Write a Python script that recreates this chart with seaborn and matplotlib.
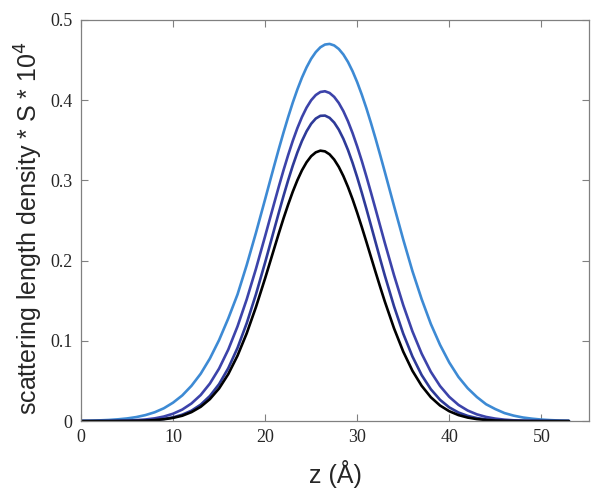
import numpy as np
import pandas as pd
import seaborn as sns
import matplotlib
matplotlib.use("Agg")
import matplotlib.pyplot as plt

# ----------------------------
# DATA
# ----------------------------
z = [0, 1, 2, 3, 4, 5, 6, 7, 8, 9, 10, 11, 12, 13, 14, 15, 16, 17, 18, 19,
     20, 20.5, 21, 21.5, 22, 22.5, 23, 23.5, 24, 24.5, 25, 25.5, 26, 26.5,
     27, 27.5, 28, 28.5, 29, 29.5, 30, 30.5, 31, 31.5, 32, 32.5, 33,
     34, 35, 36, 37, 38, 39, 40, 41, 42, 43, 44, 45, 46, 47, 48, 49, 50, 51, 52, 53]

sld_light = [0.0003, 0.0005, 0.0009, 0.0014, 0.0022, 0.0033, 0.0050, 0.0075, 0.0110, 0.0160,
             0.0230, 0.0320, 0.0440, 0.0590, 0.0780, 0.1010, 0.1280, 0.1578, 0.1945, 0.2345,
             0.2765, 0.2978, 0.3189, 0.3397, 0.3597, 0.3788, 0.3968, 0.4132, 0.4280, 0.4408,
             0.4515, 0.4598, 0.4658, 0.4692, 0.4700, 0.4681, 0.4637, 0.4568, 0.4475, 0.4359,
             0.4223, 0.4068, 0.3898, 0.3713, 0.3518, 0.3314, 0.3105,
             0.2681, 0.2263, 0.1869, 0.1520, 0.1210, 0.0950, 0.0730, 0.0550, 0.0410, 0.0300,
             0.0210, 0.0150, 0.0100, 0.0068, 0.0045, 0.0030, 0.0019, 0.0012, 0.0007, 0.0004]

sld_mid = [0.0000, 0.0000, 0.0001, 0.0002, 0.0003, 0.0006, 0.0012, 0.0020, 0.0034, 0.0057,
           0.0092, 0.0144, 0.0220, 0.0325, 0.0468, 0.0655, 0.0892, 0.1180, 0.1517, 0.1896,
           0.2305, 0.2514, 0.2722, 0.2928, 0.3127, 0.3315, 0.3491, 0.3650, 0.3789, 0.3906,
           0.3998, 0.4063, 0.4101, 0.4110, 0.4089, 0.4040, 0.3964, 0.3862, 0.3736, 0.3588,
           0.3422, 0.3242, 0.3048, 0.2846, 0.2639, 0.2430, 0.2221,
           0.1818, 0.1446, 0.1118, 0.0841, 0.0614, 0.0437, 0.0302, 0.0202, 0.0132, 0.0084,
           0.0052, 0.0031, 0.0018, 0.0010, 0.0006, 0.0003, 0.0002, 0.0001, 0.0000, 0.0000]

sld_dark = [0.0000, 0.0000, 0.0000, 0.0000, 0.0001, 0.0002, 0.0004, 0.0008, 0.0015, 0.0027,
            0.0047, 0.0080, 0.0130, 0.0205, 0.0313, 0.0461, 0.0660, 0.0912, 0.1220, 0.1579,
            0.1977, 0.2185, 0.2395, 0.2603, 0.2807, 0.3001, 0.3182, 0.3347, 0.3491, 0.3611,
            0.3705, 0.3770, 0.3804, 0.3807, 0.3779, 0.3720, 0.3632, 0.3517, 0.3378, 0.3217,
            0.3038, 0.2846, 0.2645, 0.2437, 0.2227, 0.2018, 0.1814,
            0.1430, 0.1090, 0.0805, 0.0574, 0.0397, 0.0265, 0.0171, 0.0107, 0.0065, 0.0038,
            0.0021, 0.0012, 0.0006, 0.0003, 0.0002, 0.0001, 0.0000, 0.0000, 0.0000, 0.0000]

sld_black = [0.0000, 0.0000, 0.0000, 0.0000, 0.0001, 0.0002, 0.0003, 0.0006, 0.0012, 0.0023,
             0.0040, 0.0067, 0.0112, 0.0178, 0.0274, 0.0407, 0.0586, 0.0815, 0.1094, 0.1420,
             0.1780, 0.1968, 0.2157, 0.2345, 0.2527, 0.2698, 0.2858, 0.3001, 0.3125, 0.3225,
             0.3301, 0.3349, 0.3370, 0.3361, 0.3324, 0.3259, 0.3168, 0.3053, 0.2917, 0.2764,
             0.2596, 0.2418, 0.2233, 0.2044, 0.1855, 0.1670, 0.1490,
             0.1156, 0.0866, 0.0627, 0.0440, 0.0297, 0.0194, 0.0123, 0.0075, 0.0044, 0.0025,
             0.0014, 0.0007, 0.0004, 0.0002, 0.0001, 0.0000, 0.0000, 0.0000, 0.0000, 0.0000]

series_names = ["light", "mid", "dark", "black"]
colors = ["#3d8ad4", "#3c43aa", "#2e3a98", "#000000"]

x_ticks = [0, 10, 20, 30, 40, 50]
y_ticks = [0, 0.1, 0.2, 0.3, 0.4, 0.5]
y_tick_labels = ["0", "0.1", "0.2", "0.3", "0.4", "0.5"]

# ----------------------------
# BUILD LONG TABLE
# ----------------------------
df = pd.concat([
    pd.DataFrame({"z": z, "sld": vals, "curve": name})
    for name, vals in zip(series_names, [sld_light, sld_mid, sld_dark, sld_black])
])

# ----------------------------
# PLOT
# ----------------------------
sns.set_style("white")
fig = plt.figure(figsize=(6, 4.96), dpi=100)
ax = fig.add_axes([0.135, 0.151, 0.847, 0.809])

sns.lineplot(data=df, x="z", y="sld", hue="curve", hue_order=series_names,
             palette=colors, linewidth=1.9, legend=False, ax=ax,
             solid_joinstyle="round", solid_capstyle="round")

ax.set_xlim(0, 55.2)
ax.set_ylim(0, 0.5)
ax.set_xticks(x_ticks)
ax.set_yticks(y_ticks)
ax.set_yticklabels(y_tick_labels)

for lab in ax.get_xticklabels() + ax.get_yticklabels():
    lab.set_family("Liberation Serif")
    lab.set_fontsize(13)

ax.tick_params(direction="in", length=5, width=0.8, color="#808080",
               top=True, right=True, bottom=True, left=True, pad=6)

for sp in ax.spines.values():
    sp.set_visible(True)
    sp.set_color("#808080")
    sp.set_linewidth(0.9)

ax.set_xlabel("z (Å)", family="Liberation Sans", fontsize=18, labelpad=10)
ax.set_ylabel("scattering length density * S * 10$^4$", family="Liberation Sans",
              fontsize=18)
ax.yaxis.set_label_coords(-0.07, 0.48)

fig.savefig("out.png", dpi=100)
